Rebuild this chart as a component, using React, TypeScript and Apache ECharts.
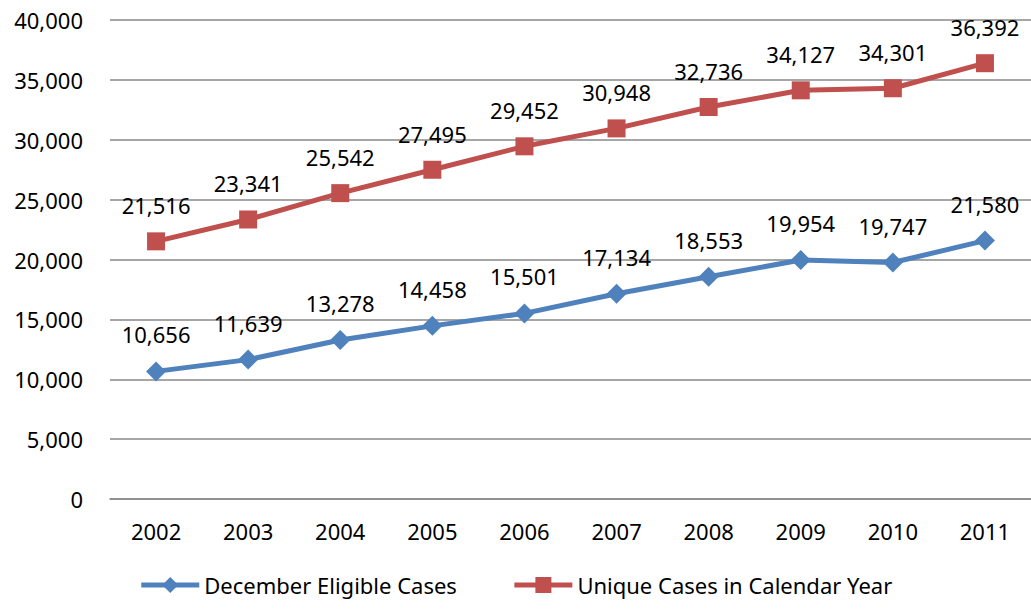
import React, { useEffect, useRef } from "react";
import * as echarts from "echarts";

const years = ["2002", "2003", "2004", "2005", "2006", "2007", "2008", "2009", "2010", "2011"];
const decemberEligible = [10656, 11639, 13278, 14458, 15501, 17134, 18553, 19954, 19747, 21580];
const uniqueCases = [21516, 23341, 25542, 27495, 29452, 30948, 32736, 34127, 34301, 36392];

const FONT = "Noto Sans";
const fmt = (v: number) => v.toLocaleString("en-US");

export default function App() {
  const ref = useRef<HTMLDivElement>(null);
  useEffect(() => {
    if (!ref.current) return;
    const chart = echarts.init(ref.current, null, { renderer: "svg" });
    chart.setOption({
      animation: false,
      textStyle: { fontFamily: FONT },
      grid: { left: 110, right: 0, top: 20, bottom: 110 },
      legend: {
        bottom: 8,
        left: "center",
        itemWidth: 58,
        itemHeight: 20,
        itemGap: 55,
        lineStyle: { width: 5 },
        textStyle: { fontFamily: FONT, fontSize: 22, color: "#000" },
        data: ["December Eligible Cases", "Unique Cases in Calendar Year"],
      },
      xAxis: {
        type: "category",
        data: years,
        boundaryGap: true,
        axisLine: { lineStyle: { color: "#898989", width: 1.5 } },
        axisTick: { show: false },
        axisLabel: { fontFamily: FONT, fontSize: 22, color: "#000", margin: 21 },
      },
      yAxis: {
        type: "value",
        min: 0,
        max: 40000,
        interval: 5000,
        axisLine: { show: false },
        axisTick: { show: false },
        splitLine: { lineStyle: { color: "#898989", width: 1.5 } },
        axisLabel: {
          fontFamily: FONT,
          fontSize: 22,
          color: "#000",
          margin: 27,
          formatter: (v: number) => fmt(v),
        },
      },
      series: [
        {
          name: "December Eligible Cases",
          type: "line",
          data: decemberEligible,
          symbol: "diamond",
          symbolSize: 20,
          lineStyle: { color: "#4F81BD", width: 5 },
          itemStyle: { color: "#4F81BD" },
          label: {
            show: true,
            position: "top",
            distance: 16,
            fontFamily: FONT,
            fontSize: 22,
            color: "#000",
            formatter: (p: any) => fmt(p.value),
          },
        },
        {
          name: "Unique Cases in Calendar Year",
          type: "line",
          data: uniqueCases,
          symbol: "rect",
          symbolSize: 18,
          lineStyle: { color: "#C0504D", width: 5 },
          itemStyle: { color: "#C0504D" },
          label: {
            show: true,
            position: "top",
            distance: 16,
            fontFamily: FONT,
            fontSize: 22,
            color: "#000",
            formatter: (p: any) => fmt(p.value),
          },
        },
      ],
    });
    return () => chart.dispose();
  }, []);
  return (
    <div
      ref={ref}
      style={{ position: "fixed", left: 0, top: 0, width: 1031, height: 609, background: "#fff" }}
    />
  );
}
